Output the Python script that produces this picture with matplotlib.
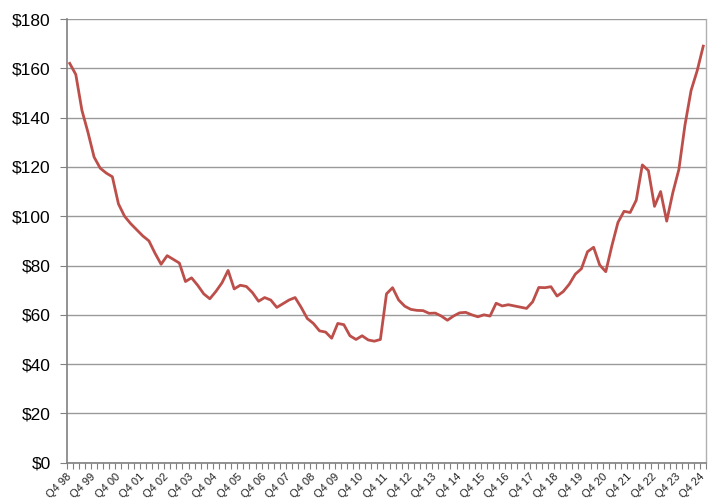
import matplotlib
matplotlib.use("Agg")
import matplotlib.pyplot as plt
import numpy as np
from matplotlib.ticker import FixedLocator, FuncFormatter

# Quarterly values, Q4 1998 .. Q4 2024
values = [
    162, 157.5, 143, 134, 124, 119.5, 117.5, 116,
    105, 100, 97, 94.5, 92, 90, 85, 80.5,
    84, 82.5, 81, 73.5, 75, 72, 68.5, 66.5,
    69.5, 73, 78, 70.5, 72, 71.5, 69, 65.5,
    67, 66, 63, 64.5, 66, 67, 63, 58.5,
    56.5, 53.5, 53, 50.5, 56.5, 56, 51.5, 50,
    51.5, 49.8, 49.3, 50, 68.5, 71, 66, 63.5,
    62.2, 61.8, 61.7, 60.6, 60.7, 59.5, 57.8, 59.5,
    60.8, 61, 60, 59.2, 60, 59.5, 64.7, 63.6,
    64.1, 63.6, 63.1, 62.6, 65.3, 71.1, 71, 71.4,
    67.6, 69.4, 72.4, 76.5, 78.7, 85.6, 87.4, 80.2,
    77.5, 88, 97.5, 102, 101.5, 106.5, 120.8, 118.5,
    104, 110, 98, 109.5, 119, 137, 151, 159,
    169,
]
years = [f"{y % 100:02d}" for y in range(1998, 2025)]
tick_labels = [f"Q4 {y}" for y in years]
y_ticks = [0, 20, 40, 60, 80, 100, 120, 140, 160, 180]

plt.rcParams['font.family'] = ['Liberation Sans', 'DejaVu Sans']

fig = plt.figure(figsize=(7.13, 5.03), dpi=100)
ax = fig.add_axes([0.0935, 0.0801, 0.8971, 0.8821])

x = np.arange(len(values))
ax.plot(x, values, color='#BD4F4B', lw=2.0, solid_joinstyle='round')

ax.set_xlim(-0.5, len(values) - 0.5)
ax.set_ylim(0, 180)

ax.set_yticks(y_ticks)
ax.yaxis.set_major_formatter(FuncFormatter(lambda v, p: f"${int(v)}"))
ax.grid(axis='y', color='#9a9a9a', lw=1.0)
ax.set_axisbelow(True)

label_pos = np.arange(0, len(values), 4)
ax.xaxis.set_major_locator(FixedLocator(label_pos))
ax.set_xticklabels(tick_labels[:len(label_pos)], rotation=45, ha='right',
                   va='center', rotation_mode='anchor', fontsize=8, color='#222222')
ax.xaxis.set_minor_locator(FixedLocator(np.arange(-0.5, len(values), 1)))
ax.tick_params(axis='x', which='major', length=0, pad=9)
ax.tick_params(axis='x', which='minor', length=4, color='#808080', width=0.8)
ax.tick_params(axis='y', which='major', length=5, color='#808080', width=0.8,
               labelsize=12.5, pad=6.5)

for s in ['left', 'bottom']:
    ax.spines[s].set_color('#808080')
    ax.spines[s].set_linewidth(1.2)
ax.spines['top'].set_visible(False)
ax.spines['right'].set_color('#b0b0b0')
ax.spines['right'].set_linewidth(1.0)

fig.savefig('out.png', dpi=100)
